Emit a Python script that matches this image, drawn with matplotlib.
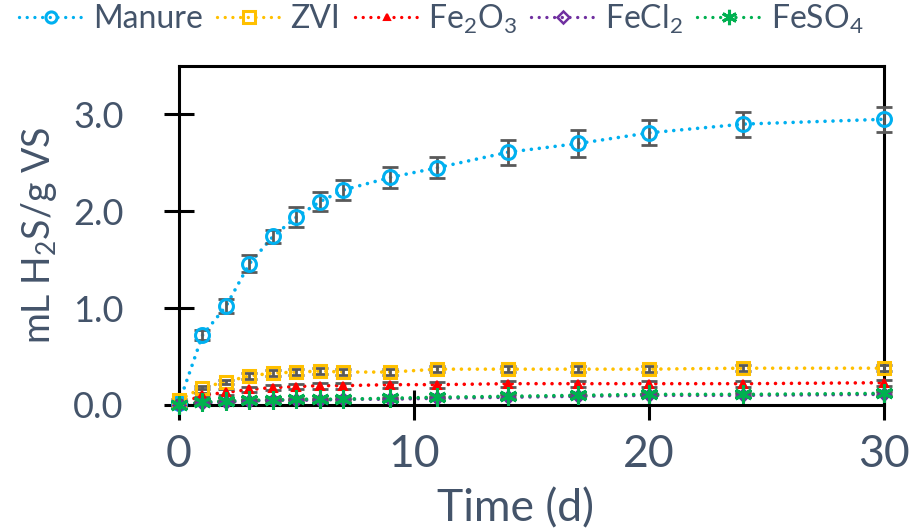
import numpy as np
import matplotlib.pyplot as plt
from matplotlib.lines import Line2D

# cumulative H2S yield (mL H2S / g VS) over time (d)
days = [0, 1, 2, 3, 4, 5, 6, 7, 9, 11, 14, 17, 20, 24, 30]

manure = [0.02, 0.72, 1.02, 1.46, 1.74, 1.94, 2.10, 2.22, 2.35, 2.45, 2.61, 2.70, 2.81, 2.90, 2.95]
manure_err = [0.02, 0.05, 0.07, 0.09, 0.07, 0.10, 0.10, 0.10, 0.11, 0.11, 0.13, 0.14, 0.13, 0.13, 0.13]

zvi = [0.05, 0.18, 0.24, 0.30, 0.33, 0.34, 0.35, 0.34, 0.34, 0.37, 0.37, 0.37, 0.37, 0.38, 0.38]
zvi_err = [0.01, 0.02, 0.02, 0.03, 0.03, 0.03, 0.03, 0.03, 0.03, 0.03, 0.03, 0.03, 0.03, 0.03, 0.03]

fe2o3 = [0.01, 0.10, 0.13, 0.16, 0.18, 0.19, 0.20, 0.20, 0.21, 0.21, 0.22, 0.22, 0.22, 0.22, 0.23]
fe2o3_err = [0.01, 0.02, 0.03, 0.03, 0.03, 0.03, 0.03, 0.03, 0.03, 0.03, 0.03, 0.03, 0.03, 0.03, 0.03]

fecl2 = [0.00, 0.02, 0.03, 0.04, 0.05, 0.05, 0.05, 0.06, 0.06, 0.07, 0.08, 0.09, 0.10, 0.10, 0.11]
fecl2_err = [0.01, 0.01, 0.01, 0.01, 0.01, 0.01, 0.01, 0.01, 0.01, 0.01, 0.02, 0.02, 0.02, 0.02, 0.02]

feso4 = [0.00, 0.03, 0.04, 0.05, 0.05, 0.06, 0.06, 0.06, 0.07, 0.08, 0.09, 0.10, 0.11, 0.11, 0.12]
feso4_err = [0.01, 0.01, 0.01, 0.01, 0.01, 0.01, 0.01, 0.01, 0.01, 0.01, 0.02, 0.02, 0.02, 0.02, 0.02]

labels = ["Manure", "ZVI", "Fe$_2$O$_3$", "FeCl$_2$", "FeSO$_4$"]
colors = ["#00B0F0", "#FFC000", "#FF0000", "#7030A0", "#00B050"]

txt = "#44546A"
plt.rcParams["font.family"] = ["Lato", "DejaVu Sans"]
plt.rcParams["mathtext.fontset"] = "custom"
plt.rcParams["mathtext.rm"] = "Lato"

fig = plt.figure(figsize=(9.1, 5.31), dpi=100)
ax = fig.add_axes([0.1967, 0.2373, 0.7747, 0.6384])

# data, errors, marker, size, edge width, legend size
series = [
    (manure, manure_err, "o", 10, 2.2, 8),
    (zvi, zvi_err, "s", 9, 2.2, 8),
    (fe2o3, fe2o3_err, "^", 6, 1.5, 5),
    (fecl2, fecl2_err, "D", 6, 1.8, 6),
    (feso4, feso4_err, (6, 2, 0), 13, 2.2, 11),
]

dots = (0, (0.01, 2.2))
handles = []
for (y, err, m, ms, mew, lms), c, lab in zip(series, colors, labels):
    face = "none" if m in ("o", "s", "D") else c
    ax.plot(days, y, color=c, lw=2.6, ls=dots, dash_capstyle="round",
            zorder=2, clip_on=False)
    ax.errorbar(days, y, yerr=err, fmt="none", ecolor="#595959", elinewidth=2,
                capsize=6, capthick=2, zorder=3, clip_on=False)
    ax.plot(days, y, ls="none", marker=m, ms=ms, mew=mew, mec=c, mfc=face,
            zorder=4, clip_on=False)
    handles.append(Line2D([], [], color=c, lw=2.4, ls=(0, (0.01, 2.3)),
                          dash_capstyle="round", marker=m, ms=lms, mew=mew,
                          mec=c, mfc=face))

ax.set_xlim(0, 30)
ax.set_ylim(0, 3.5)
ax.set_xticks([0, 10, 20, 30])
ax.set_yticks([0, 1, 2, 3])
ax.set_yticklabels(["0.0", "1.0", "2.0", "3.0"])

for s in ax.spines.values():
    s.set_linewidth(2.2)
    s.set_color("black")

ax.tick_params(axis="both", direction="inout", length=21.6, width=2.2, colors="black")
ax.tick_params(axis="x", labelsize=32, labelcolor=txt, pad=10)
ax.tick_params(axis="y", labelsize=26, labelcolor=txt, pad=29)

ax.set_xlabel("Time (d)", fontsize=32, color=txt)
ax.xaxis.set_label_coords(0.478, -0.245)
ax.set_ylabel("mL H$_2$S/g VS", fontsize=27, color=txt)
ax.yaxis.set_label_coords(-0.17, 0.5)

fig.legend(handles, labels, loc="center", bbox_to_anchor=(0.485, 0.964), ncol=5,
           frameon=False, fontsize=23, handlelength=2.0, handletextpad=0.3,
           columnspacing=0.45, labelcolor=txt)

fig.savefig("out.png", dpi=100)
